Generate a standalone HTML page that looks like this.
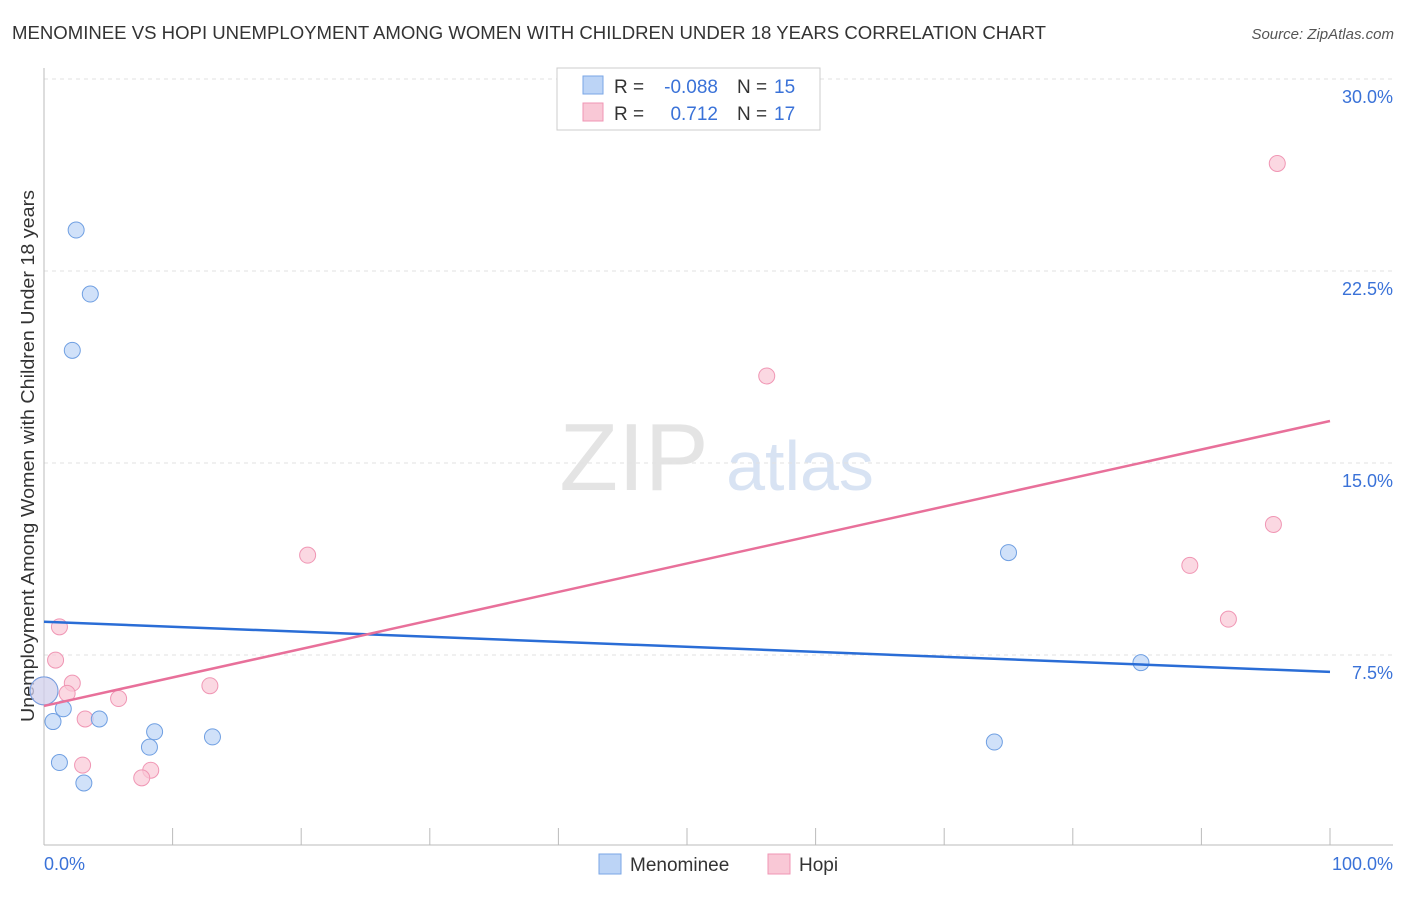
<!DOCTYPE html>
<html><head><meta charset="utf-8"><style>
body{margin:0;background:#fff;font-family:"Liberation Sans",sans-serif;}
svg text{font-family:"Liberation Sans",sans-serif;}
</style></head><body>
<svg id="c" width="1406" height="892">
<text x="12" y="39" font-size="18" fill="#333" textLength="1034" lengthAdjust="spacingAndGlyphs">MENOMINEE VS HOPI UNEMPLOYMENT AMONG WOMEN WITH CHILDREN UNDER 18 YEARS CORRELATION CHART</text>
<text x="1394" y="39" font-size="15" fill="#555" text-anchor="end" font-style="italic">Source: ZipAtlas.com</text>
<text x="634" y="490" font-size="96" fill="#e4e4e4" font-family="Liberation Serif" text-anchor="middle">ZIP</text>
<text x="800" y="490" font-size="70" fill="#d8e3f3" text-anchor="middle">atlas</text>
<text transform="translate(34,456) rotate(-90)" font-size="18" fill="#333" text-anchor="middle" textLength="532" lengthAdjust="spacingAndGlyphs">Unemployment Among Women with Children Under 18 years</text>
<g id="grid"></g><g id="marks"></g>
<g>
<rect x="557" y="68" width="263" height="62" fill="#fff" stroke="#ccc"/>
<rect x="583" y="76" width="20" height="18" fill="#bcd4f6" stroke="#7aa6e6"/>
<rect x="583" y="103" width="20" height="18" fill="#f9c8d6" stroke="#f096b4"/>
<text x="614" y="93" font-size="19" fill="#333">R =</text>
<text x="718" y="93" font-size="19" fill="#3a72d8" text-anchor="end">-0.088</text>
<text x="737" y="93" font-size="19" fill="#333">N =</text>
<text x="774" y="93" font-size="19" fill="#3a72d8">15</text>
<text x="614" y="120" font-size="19" fill="#333">R =</text>
<text x="718" y="120" font-size="19" fill="#3a72d8" text-anchor="end">0.712</text>
<text x="737" y="120" font-size="19" fill="#333">N =</text>
<text x="774" y="120" font-size="19" fill="#3a72d8">17</text>
</g>
<g>
<rect x="599" y="854" width="22" height="20" fill="#bcd4f6" stroke="#7aa6e6"/>
<text x="630" y="871" font-size="19" fill="#333">Menominee</text>
<rect x="768" y="854" width="22" height="20" fill="#f9c8d6" stroke="#f096b4"/>
<text x="799" y="871" font-size="19" fill="#333">Hopi</text>
</g>
<text x="44" y="870" font-size="18" fill="#3a72d8">0.0%</text>
<text x="1393" y="870" font-size="18" fill="#3a72d8" text-anchor="end">100.0%</text>
</svg>
<script>
const blueX=[2.5,3.6,2.2,0,0.7,1.5,1.2,3.1,4.3,8.2,8.6,13.1,75.0,85.3,73.9];
const blueY=[24.1,21.6,19.4,6.1,4.9,5.4,3.3,2.5,5.0,3.9,4.5,4.3,11.5,7.2,4.1];
const pinkX=[95.9,56.2,20.5,95.6,89.1,92.1,1.2,0.9,2.2,1.8,0,3.2,5.8,12.9,3.0,8.3,7.6];
const pinkY=[26.7,18.4,11.4,12.6,11.0,8.9,8.6,7.3,6.4,6.0,6.1,5.0,5.8,6.3,3.2,3.0,2.7];
const yTicks=[7.5,15.0,22.5,30.0];
const blueLine=[8.8,6.84];
const pinkLine=[5.51,16.64];
const NS="http://www.w3.org/2000/svg";
const sx=v=>44+v*12.86, sy=v=>847-v*25.6;
function mk(t,a,p){const e=document.createElementNS(NS,t);for(const k in a)e.setAttribute(k,a[k]);p.appendChild(e);return e;}
const g=document.getElementById('grid'),m=document.getElementById('marks');
yTicks.forEach(v=>{
 const l=mk('line',{x1:44,x2:1393,y1:sy(v),y2:sy(v),stroke:'#e2e2e2','stroke-dasharray':'4,4'},g);
 
 
 const t=mk('text',{x:1393,y:sy(v)+24,'font-size':18,fill:'#3a72d8','text-anchor':'end'},g);
 t.textContent=v.toFixed(1)+'%';
 
 
});
mk('line',{x1:44,x2:44,y1:68,y2:845,stroke:'#bbb'},g);
mk('line',{x1:44,x2:1393,y1:845,y2:845,stroke:'#bbb'},g);
for(let i=0;i<=10;i++){const t=mk('line',{x1:sx(i*10),x2:sx(i*10),y1:828,y2:845,stroke:'#bbb'},g);
 
 }
function pts(X,Y,f,s,n){X.forEach((x,i)=>{const big=x===0;const c=mk('circle',{cx:sx(x),cy:sy(Y[i]),r:big?14:8,fill:f,'fill-opacity':big?0.5:0.7,stroke:s,'stroke-width':1},m);
 
 });}
pts(pinkX,pinkY,'#f9c8d6','#f096b4','hopi-point');
pts(blueX,blueY,'#bcd4f6','#6f9fe2','menominee-point');
const bl=mk('line',{x1:sx(0),y1:sy(blueLine[0]),x2:sx(100),y2:sy(blueLine[1]),stroke:'#2a6dd6','stroke-width':2.5},m);


const pl=mk('line',{x1:sx(0),y1:sy(pinkLine[0]),x2:sx(100),y2:sy(pinkLine[1]),stroke:'#e8709a','stroke-width':2.5},m);


</script>
</body></html>
